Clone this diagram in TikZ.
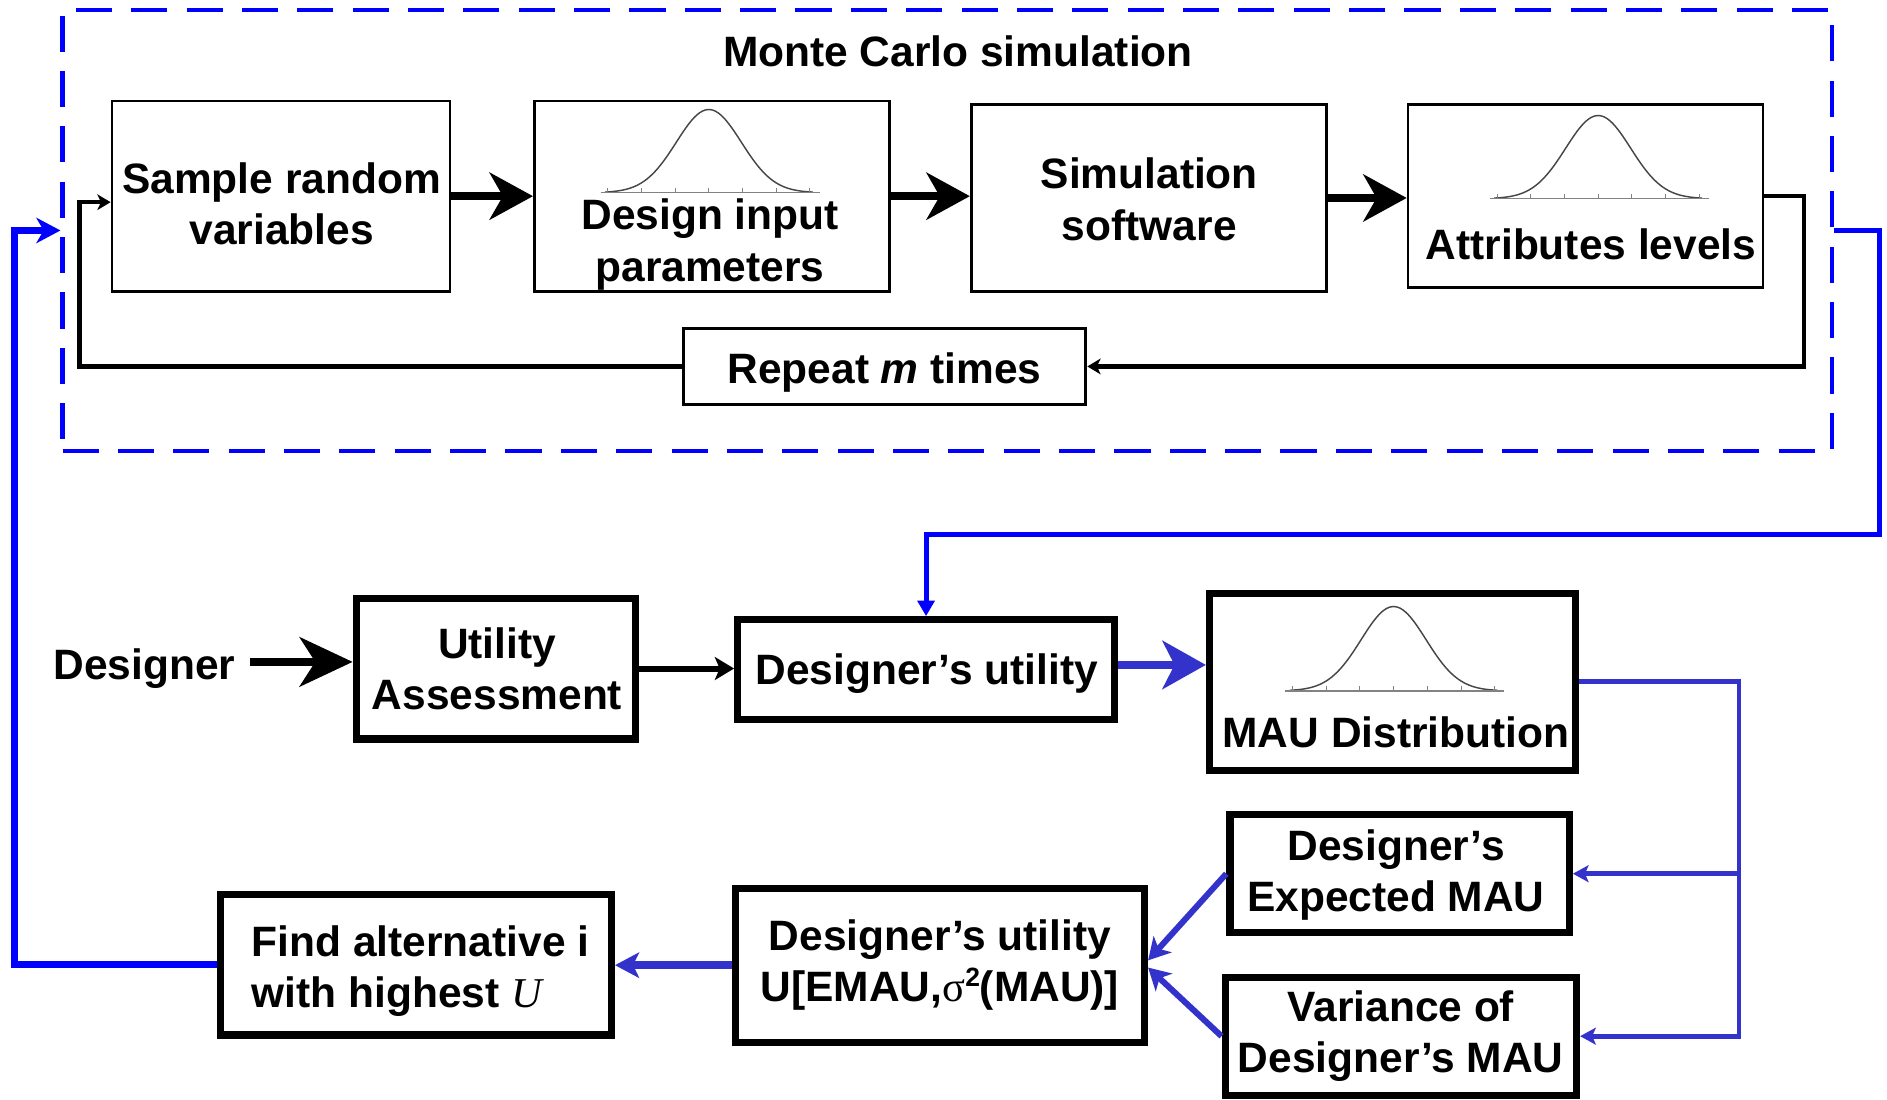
\documentclass[tikz,border=0pt]{standalone}
\usepackage{fontspec}
\setmainfont{Liberation Sans}
\newfontfamily\serifU{Liberation Serif}
\usetikzlibrary{arrows.meta,calc}
\definecolor{pblue}{RGB}{0,0,255}
\definecolor{mblue}{RGB}{51,51,204}
\definecolor{curvegray}{RGB}{70,70,70}
\definecolor{axisgray}{RGB}{130,130,130}
\newcommand{\twol}[2]{\begin{tabular}[t]{@{}c@{}}#1\\#2\end{tabular}}
\newcommand{\bellcurve}[3]{%
  \draw[curvegray,line width=1.2pt] plot[domain=-3.2:3.2,samples=80,smooth] ({#1+27*\x},{#2-#3*exp(-0.5*\x*\x)});
  \draw[axisgray,line width=1.3pt] (#1-90,#2) -- (#1+92,#2);
  \foreach \k in {-3,...,3} {\draw[axisgray,line width=0.8pt] (#1+28*\k,#2) -- (#1+28*\k,#2-4);}
}
\tikzset{
  sz/.style 2 args={minimum width=#1pt,minimum height=#2pt},
  thinbox/.style={draw=black,line width=2.2pt,inner sep=0pt},
  thickbox/.style={draw=black,line width=6pt,inner sep=0pt},
  dashbox/.style={draw=pblue,line width=3.5pt,dash pattern=on 30pt off 16pt,inner sep=0pt},
  txt/.style={font=\bfseries\fontsize{35.3pt}{42.5pt}\selectfont,inner sep=0pt,anchor=base},
  bigblk/.style={draw=black,line width=6.5pt,-{Stealth[length=36pt,width=39pt,inset=11pt]}},
  desblk/.style={draw=black,line width=6.5pt,-{Stealth[length=44pt,width=41pt,inset=13pt]}},
  medblk/.style={draw=black,line width=5pt,-{Stealth[length=16pt,width=19pt,inset=4pt]}},
  loopblk/.style={draw=black,line width=3.5pt,-{Stealth[length=11pt,width=13pt,inset=3pt]}},
  bigblu/.style={draw=mblue,line width=7pt,-{Stealth[length=36pt,width=40pt,inset=10pt]}},
  midblu/.style={draw=mblue,line width=4pt,-{Stealth[length=13pt,width=14pt,inset=3pt]}},
  diagblu/.style={draw=mblue,line width=5pt,-{Stealth[length=18pt,width=20pt,inset=5pt]}},
  ubblu/.style={draw=mblue,line width=6.5pt,-{Stealth[length=20pt,width=21pt,inset=5pt]}},
  leftblu/.style={draw=pblue,line width=5.5pt,-{Stealth[length=20pt,width=21pt,inset=6pt]}},
  outblu/.style={draw=pblue,line width=4.2pt,-{Triangle[length=13pt,width=14pt]}},
}
\begin{document}
\begin{tikzpicture}[x=1pt,y=-1pt]
\useasboundingbox[fill=white] (0,0) rectangle (1568,914);

% Monte Carlo frame
\node[dashbox,sz={1470}{367}] (mc) at (787,191.5) {};
\node[txt] (title) at (796,55) {Monte Carlo simulation};

% top boxes
\node[thinbox,sz={281}{158}] (b1) at (233.5,163) {};
\node[thinbox,sz={295}{158}] (b2) at (591.5,163) {};
\node[thinbox,sz={295}{155}] (b3) at (954.5,164.5) {};
\node[thinbox,sz={295}{152}] (b4) at (1317.5,163) {};
\node[draw=black,line width=3pt,inner sep=0pt,sz={334}{63}] (rep) at (735,304.5) {};

\node[txt] (t1) at (234,161) {\twol{Sample random}{variables}};
\node[txt] (t2) at (590,191) {\twol{Design input}{parameters}};
\node[txt] (t3) at (955,157) {\twol{Simulation}{software}};
\node[txt] (t4) at (1322,216) {Attributes levels};
\node[txt] (trep) at (735,319) {Repeat \textit{m} times};

\bellcurve{589}{160}{69}
\bellcurve{1328}{165}{69}

% top arrows
\draw[bigblk] (b1.east) -- (b1.east -| b2.west);
\draw[bigblk] (b2.east) -- (b2.east -| b3.west);
\draw[bigblk] (b3.east) -- (b3.east -| b4.west);
\draw[loopblk] (b4.east) -- ++(33,0) |- (rep.east);
\coordinate (lpl) at (66,304.5);
\draw[loopblk] (rep.west) -- (lpl) |- ($(b1.west)+(0,5)$);

% lower boxes
\node[thickbox,sz={232}{117}] (ua) at (412,555.5) {};
\node[thickbox,sz={313}{83}] (du) at (769.5,556.5) {};
\node[thickbox,sz={304}{147}] (mau) at (1157,566.5) {};
\node[thickbox,sz={282}{98}] (emau) at (1163,726) {};
\node[thickbox,sz={292}{98}] (var) at (1164,861) {};
\node[thickbox,sz={340}{128}] (ub) at (781,802) {};
\node[thickbox,sz={325}{117}] (find) at (345.5,801.5) {};

\node[txt,inner xsep=12pt] (des) at (120,565) {Designer};
\node[txt] (tua) at (413,547) {\twol{Utility}{Assessment}};
\node[txt] (tdu) at (770,569) {Designer’s utility};
\node[txt] (tmau) at (1160,621) {MAU Distribution};
\node[txt] (temau) at (1160,715) {\twol{Designer’s}{Expected MAU}};
\node[txt] (tvar) at (1164,849) {\twol{Variance of}{Designer’s MAU}};
\node[txt] (tub) at (781,790) {\twol{Designer’s utility}{U[EMAU,{\serifU\mdseries σ}\raisebox{13pt}{\fontsize{22pt}{22pt}\selectfont 2}(MAU)]}};
\node[txt,anchor=base west] (tfind) at (209,795) {\begin{tabular}[t]{@{}l@{}}Find alternative i\\with highest {\serifU\mdseries\itshape U}\end{tabular}};

\bellcurve{1158}{574}{70}

% lower connectors
\coordinate (dy) at (0,550);
\draw[desblk] (des.east |- dy) -- (ua.west |- dy);
\draw[medblk] (ua.east) -- (ua.east -| du.west);
\coordinate (a1) at ($(du.east)+(0,-4)$);
\draw[bigblu] (a1) -- (a1 -| mau.west);
\coordinate (vx) at (1445,861);
\draw[midblu] (mau.east) -| (vx) -- (var.east);
\draw[midblu] (emau.east -| vx) -- (emau.east);
\draw[diagblu] (emau.west) -- ($(ub.east)+(0,-4)$);
\draw[diagblu] (var.west) -- ($(ub.east)+(0,2)$);
\draw[ubblu] (ub.west) -- (ub.west -| find.east);

% blue feedback lines
\coordinate (br) at (1562,444.5);
\draw[outblu] (mc.east) -| (br) -| (du.north);
\coordinate (bl) at (12,801.5);
\draw[leftblu] (find.west) -- (bl) |- (mc.west);
\end{tikzpicture}
\end{document}
